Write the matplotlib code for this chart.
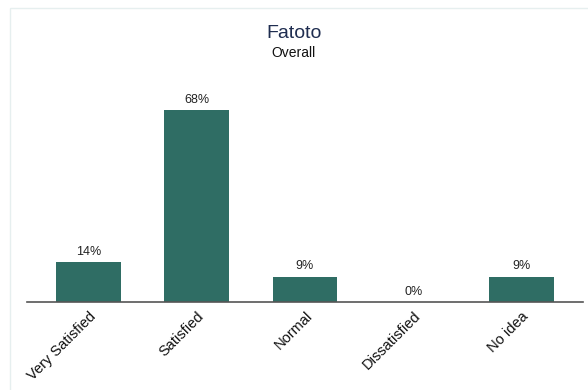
import matplotlib
matplotlib.use("Agg")
import matplotlib.pyplot as plt
from matplotlib.patches import Rectangle

categories = ["Very Satisfied", "Satisfied", "Normal", "Dissatisfied", "No idea"]
values = [14, 68, 9, 0, 9]
value_labels = ["14%", "68%", "9%", "0%", "9%"]

plt.rcParams["font.family"] = ["Liberation Sans", "DejaVu Sans"]

W, H = 588, 390
fig = plt.figure(figsize=(W / 100, H / 100), dpi=100)
fig.patch.set_facecolor("white")

# faint frame around the chart card
fig.patches.append(Rectangle((10 / W, -0.05), 1.1, (H - 8) / H + 0.05,
                             transform=fig.transFigure, fill=False,
                             edgecolor="#e6efef", linewidth=1.0))

ax_left, ax_right = 27 / W, 583 / W
ax_bottom, ax_top = 1 - 302 / H, 1 - 80 / H
ax = fig.add_axes([ax_left, ax_bottom, ax_right - ax_left, ax_top - ax_bottom])

x = range(len(categories))
ax.bar(x, values, width=0.6, color="#2f6d64", zorder=2)
for xi, v, lab in zip(x, values, value_labels):
    ax.annotate(lab, (xi, v), xytext=(0, 3), textcoords="offset points",
                ha="center", va="bottom", fontsize=9, color="#222222")

ax.set_xlim(-0.57, 4.57)
ax.set_ylim(0, 68 * 222 / 192)
ax.set_xticks(list(x))
ax.set_xticklabels(categories, rotation=45, ha="right", rotation_mode="anchor",
                   fontsize=10.5, color="#111111")
ax.tick_params(axis="x", length=0, pad=5)
ax.set_yticks([])
for s in ["left", "right", "top"]:
    ax.spines[s].set_visible(False)
ax.spines["bottom"].set_color("#555555")
ax.spines["bottom"].set_linewidth(1.2)

fig.text(0.5, 1 - 33 / H, "Fatoto", ha="center", va="center",
         fontsize=14, color="#1f2d50")
fig.text(0.5, 1 - 53 / H, "Overall", ha="center", va="center",
         fontsize=10, color="#111111")

fig.savefig("out.png", dpi=100)
